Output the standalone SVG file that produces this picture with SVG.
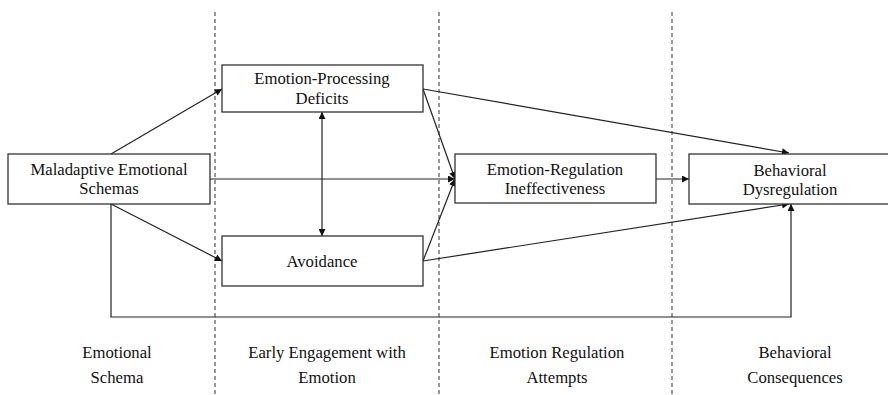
<svg xmlns="http://www.w3.org/2000/svg" width="888" height="395" viewBox="0 0 888 395">
<style>
.box{fill:#fff;stroke:#333;stroke-width:1.3}
.t{font-family:'Liberation Serif','Times New Roman',serif;font-size:16.7px;fill:#111;text-anchor:middle}
.c{fill:none;stroke:#222;stroke-width:1.2}
.d{fill:none;stroke:#333;stroke-width:1;stroke-dasharray:4 3}
</style>
<defs>
<marker id="ah" viewBox="0 0 10 10" refX="10" refY="5" markerWidth="8" markerHeight="7" markerUnits="userSpaceOnUse" orient="auto-start-reverse">
<path d="M0,0 L10,5 L0,10 Z" fill="#111"/>
</marker>
</defs>
<g id="dividers">
<line class="d" x1="215" y1="12" x2="215" y2="395"/>
<line class="d" x1="439" y1="12" x2="439" y2="395"/>
<line class="d" x1="672" y1="12" x2="672" y2="395"/>
</g>
<g id="connectors">
<line class="c" x1="111" y1="154" x2="222" y2="89" marker-end="url(#ah)"/>
<line class="c" x1="111" y1="204" x2="222" y2="261" marker-end="url(#ah)"/>
<line class="c" x1="210" y1="179" x2="455" y2="179" marker-end="url(#ah)"/>
<line class="c" x1="423" y1="89" x2="455" y2="179" marker-end="url(#ah)"/>
<line class="c" x1="423" y1="261" x2="455" y2="179" marker-end="url(#ah)"/>
<line class="c" x1="423" y1="89" x2="789" y2="153" marker-end="url(#ah)"/>
<line class="c" x1="423" y1="261" x2="789" y2="204" marker-end="url(#ah)"/>
<line class="c" x1="656" y1="179" x2="689" y2="179" marker-end="url(#ah)"/>
<line class="c" x1="322" y1="112" x2="322" y2="236" marker-start="url(#ah)" marker-end="url(#ah)"/>
<polyline class="c" points="111,204 111,317 791,317 791,204" marker-end="url(#ah)"/>
</g>
<g id="maladaptive">
<rect class="box" x="8" y="154" width="202" height="50"/>
<text class="t" x="109" y="175">Maladaptive Emotional</text>
<text class="t" x="109" y="194">Schemas</text>
</g>
<g id="epd">
<rect class="box" x="222" y="65" width="201" height="47"/>
<text class="t" x="322" y="84">Emotion-Processing</text>
<text class="t" x="322" y="104">Deficits</text>
</g>
<g id="avoidance">
<rect class="box" x="222" y="236" width="201" height="50"/>
<text class="t" x="322" y="267">Avoidance</text>
</g>
<g id="eri">
<rect class="box" x="455" y="154" width="201" height="49"/>
<text class="t" x="555" y="175">Emotion-Regulation</text>
<text class="t" x="555" y="194">Ineffectiveness</text>
</g>
<g id="behavioral">
<rect class="box" x="689" y="154" width="202" height="50"/>
<text class="t" x="790" y="176">Behavioral</text>
<text class="t" x="790" y="195">Dysregulation</text>
</g>
<g id="stages">
<text class="t" x="117" y="358">Emotional</text>
<text class="t" x="117" y="383">Schema</text>
<text class="t" x="327" y="358">Early Engagement with</text>
<text class="t" x="327" y="383">Emotion</text>
<text class="t" x="557" y="358">Emotion Regulation</text>
<text class="t" x="557" y="383">Attempts</text>
<text class="t" x="795" y="358">Behavioral</text>
<text class="t" x="795" y="383">Consequences</text>
</g>
</svg>
